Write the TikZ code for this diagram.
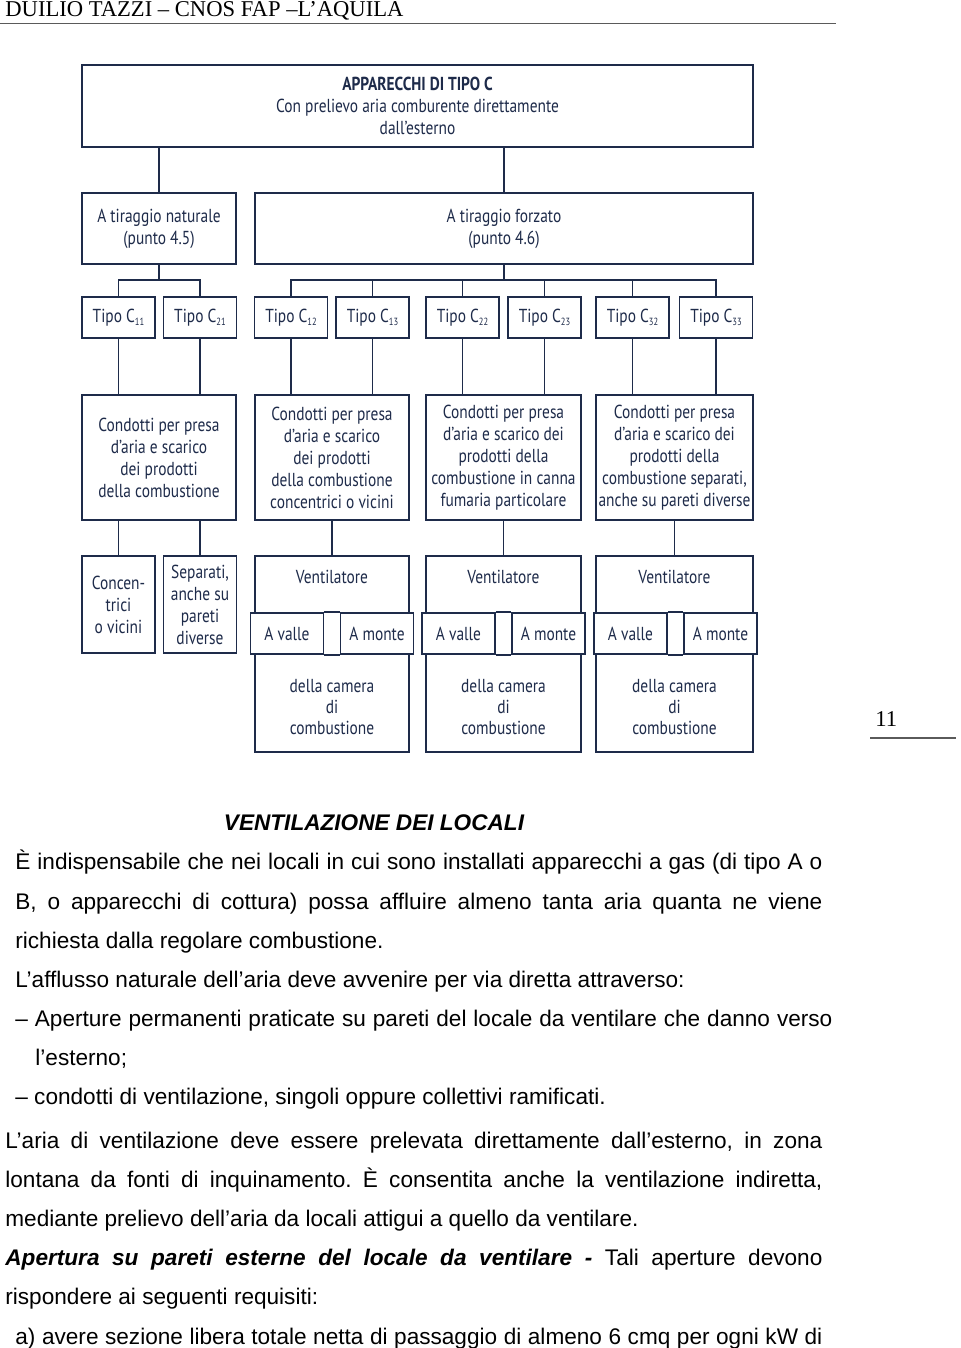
\documentclass[tikz,border=0pt]{standalone}
\usepackage{fontspec}
\setmainfont{Liberation Sans}
\newfontfamily\headfont{Liberation Serif}
\newfontfamily\diafont[FakeStretch=0.82]{PT Sans}
\usetikzlibrary{calc}

\definecolor{navy}{HTML}{1E2B4A}
\definecolor{rulegray}{HTML}{5A5A5A}

% small subscript of the Tipo boxes
\newcommand{\tsub}[1]{\raisebox{-0.35ex}{\fontsize{5.2}{5}\selectfont #1}}

\tikzset{
  box/.style={draw=navy, line width=0.8pt, fill=white, inner sep=0pt, align=center,
    font=\diafont\fontsize{9.4}{11}\selectfont, text=navy},
  boxtxt/.style={inner sep=0pt, align=center, font=\diafont\fontsize{9.4}{10.5}\selectfont, text=navy},
  wire/.style={draw=navy, line width=0.8pt},
  headtxt/.style={inner sep=0pt, anchor=base west, font=\headfont\fontsize{11.3}{13}\selectfont},
  body/.style={inner sep=0pt, anchor=base west, font=\fontsize{11.3}{13}\selectfont}
}

\begin{document}
\frenchspacing
\begin{tikzpicture}[x=0.5pt, y=-0.5pt]
  \useasboundingbox (0,0) rectangle (960,1348);

  % --- Page header and page number ---
  \node[headtxt] (head) at (5,17) {DUILIO TAZZI – CNOS FAP –L’AQUILA};
  \coordinate (hl) at (0,23.5);
  \coordinate (hr) at (836,23.5);
  \draw[rulegray, line width=0.6pt] (hl) -- (hr);
  \node[headtxt] (pnum) at (875,726) {11};
  \coordinate (pl) at (870,738);
  \coordinate (pr) at (956,738);
  \draw[rulegray, line width=0.8pt] (pl) -- (pr);

  % --- Top of the chart ---
  \node[box, minimum width=335.5pt, minimum height=41pt] (top) at (417.5,106)
    {\textbf{APPARECCHI DI TIPO C}\\Con prelievo aria comburente direttamente\\dall’esterno};
  \node[box, minimum width=77pt, minimum height=35.5pt] (nat) at (159,228.5)
    {A tiraggio naturale\\(punto 4.5)};
  \node[box, minimum width=249pt, minimum height=35.5pt] (forz) at (504,228.5)
    {A tiraggio forzato\\(punto 4.6)};
  \draw[wire] (nat.north |- top.south) -- (nat.north);
  \draw[wire] (forz.north |- top.south) -- (forz.north);

  % --- Tipo boxes ---
  \node[box, minimum width=36.5pt, minimum height=20.5pt] (t11) at (118.5,317.5) {Tipo C\tsub{11}};
  \node[box, minimum width=36.5pt, minimum height=20.5pt] (t21) at (200,317.5) {Tipo C\tsub{21}};
  \node[box, minimum width=36.5pt, minimum height=20.5pt] (t12) at (291,317.5) {Tipo C\tsub{12}};
  \node[box, minimum width=36.5pt, minimum height=20.5pt] (t13) at (372.5,317.5) {Tipo C\tsub{13}};
  \node[box, minimum width=36.5pt, minimum height=20.5pt] (t22) at (462.5,317.5) {Tipo C\tsub{22}};
  \node[box, minimum width=36.5pt, minimum height=20.5pt] (t23) at (544.5,317.5) {Tipo C\tsub{23}};
  \node[box, minimum width=36.5pt, minimum height=20.5pt] (t32) at (632.5,317.5) {Tipo C\tsub{32}};
  \node[box, minimum width=36.5pt, minimum height=20.5pt] (t33) at (716,317.5) {Tipo C\tsub{33}};

  % --- Bars from the two draught boxes ---
  \coordinate (natbar) at (159,280);
  \coordinate (forzbar) at (504,280);
  \draw[wire] (nat.south) -- (natbar);
  \draw[wire] (t11.north) -- (t11.north |- natbar) -- (t21.north |- natbar) -- (t21.north);
  \draw[wire] (forz.south) -- (forzbar);
  \draw[wire] (t12.north) -- (t12.north |- forzbar) -- (t33.north |- forzbar) -- (t33.north);
  \draw[wire] (t13.north |- forzbar) -- (t13.north);
  \draw[wire] (t22.north |- forzbar) -- (t22.north);
  \draw[wire] (t23.north |- forzbar) -- (t23.north);
  \draw[wire] (t32.north |- forzbar) -- (t32.north);

  % --- Description boxes ---
  \node[box, minimum width=77pt, minimum height=62.5pt] (d1) at (159,457.5)
    {Condotti per presa\\d’aria e scarico\\dei prodotti\\della combustione};
  \node[box, minimum width=77pt, minimum height=62.5pt] (d2) at (332,457.5)
    {Condotti per presa\\d’aria e scarico\\dei prodotti\\della combustione\\concentrici o vicini};
  \node[box, minimum width=77.5pt, minimum height=62.5pt] (d3) at (503.5,457.5)
    {Condotti per presa\\d’aria e scarico dei\\prodotti della\\combustione in canna\\fumaria particolare};
  \node[box, minimum width=78.5pt, minimum height=62.5pt] (d4) at (674.5,457.5)
    {Condotti per presa\\d’aria e scarico dei\\prodotti della\\combustione separati,\\anche su pareti diverse};
  \draw[wire] (t11.south) -- (t11.south |- d1.north);
  \draw[wire] (t21.south) -- (t21.south |- d1.north);
  \draw[wire] (t12.south) -- (t12.south |- d2.north);
  \draw[wire] (t13.south) -- (t13.south |- d2.north);
  \draw[wire] (t22.south) -- (t22.south |- d3.north);
  \draw[wire] (t23.south) -- (t23.south |- d3.north);
  \draw[wire] (t32.south) -- (t32.south |- d4.north);
  \draw[wire] (t33.south) -- (t33.south |- d4.north);

  % --- Natural draught: concentric or separate ---
  \node[box, minimum width=36.5pt, minimum height=48.5pt] (conc) at (118.5,604.5)
    {Concen-\\trici\\o vicini};
  \node[box, minimum width=36.5pt, minimum height=48.5pt] (sep) at (200,604.5)
    {Separati,\\anche su\\pareti\\diverse};
  \draw[wire] (conc.north |- d1.south) -- (conc.north);
  \draw[wire] (sep.north |- d1.south) -- (sep.north);

  % --- Forced draught: fan groups ---
  \node[box, minimum width=77pt, minimum height=98pt] (g1) at (332,654) {};
  \node[box, minimum width=77.5pt, minimum height=98pt] (g2) at (503.5,654) {};
  \node[box, minimum width=78.5pt, minimum height=98pt] (g3) at (674.5,654) {};
  \draw[wire] (d2.south) -- (g1.north);
  \draw[wire] (d3.south) -- (g2.north);
  \draw[wire] (d4.south) -- (g3.north);

  \node[boxtxt] (ven1) at (332,577) {Ventilatore};
  \node[boxtxt] (ven2) at (503.5,577) {Ventilatore};
  \node[boxtxt] (ven3) at (674.5,577) {Ventilatore};
  \node[boxtxt] (cam1) at (332,707) {della camera\\di\\combustione};
  \node[boxtxt] (cam2) at (503.5,707) {della camera\\di\\combustione};
  \node[boxtxt] (cam3) at (674.5,707) {della camera\\di\\combustione};

  % --- A valle / A monte bands ---
  \node[box, minimum width=36.5pt, minimum height=20.5pt] (av1) at (287,633.5) {A valle};
  \node[box, minimum width=36.5pt, minimum height=20.5pt] (am1) at (377,633.5) {A monte};
  \node[box, minimum width=36.5pt, minimum height=20.5pt] (av2) at (458.5,633.5) {A valle};
  \node[box, minimum width=36.5pt, minimum height=20.5pt] (am2) at (548.5,633.5) {A monte};
  \node[box, minimum width=36.5pt, minimum height=20.5pt] (av3) at (630.5,633.5) {A valle};
  \node[box, minimum width=36.5pt, minimum height=20.5pt] (am3) at (720.5,633.5) {A monte};
  \draw[wire] (av1.north east) -- (am1.north west);
  \draw[wire] (av1.south east) -- (am1.south west);
  \draw[wire] (av2.north east) -- (am2.north west);
  \draw[wire] (av2.south east) -- (am2.south west);
  \draw[wire] (av3.north east) -- (am3.north west);
  \draw[wire] (av3.south east) -- (am3.south west);

  % --- Text of the page ---
  \node[body, anchor=base, font=\bfseries\itshape\fontsize{11.3}{13}\selectfont] (title) at (374,830)
    {VENTILAZIONE DEI LOCALI};
  \node[body] (l1) at (15,869)
    {\makebox[403.5pt][s]{È indispensabile che nei locali in cui sono installati apparecchi a gas (di tipo A o}};
  \node[body] (l2) at (15,909)
    {\makebox[403.5pt][s]{B, o apparecchi di cottura) possa affluire almeno tanta aria quanta ne viene}};
  \node[body] (l3) at (15,948) {richiesta dalla regolare combustione.};
  \node[body] (l4) at (15,987) {L’afflusso naturale dell’aria deve avvenire per via diretta attraverso:};
  \node[body] (l5) at (15,1026)
    {\makebox[408.5pt][s]{– Aperture permanenti praticate su pareti del locale da ventilare che danno verso}};
  \node[body] (l6) at (35,1065) {l’esterno;};
  \node[body] (l7) at (15,1104) {– condotti di ventilazione, singoli oppure collettivi ramificati.};
  \node[body] (l8) at (5,1148)
    {\makebox[408.5pt][s]{L’aria di ventilazione deve essere prelevata direttamente dall’esterno, in zona}};
  \node[body] (l9) at (5,1187)
    {\makebox[408.5pt][s]{lontana da fonti di inquinamento. È consentita anche la ventilazione indiretta,}};
  \node[body] (l10) at (5,1226) {mediante prelievo dell’aria da locali attigui a quello da ventilare.};
  \node[body] (l11) at (5,1265)
    {\makebox[408.5pt][s]{\bfseries\itshape Apertura su pareti esterne del locale da ventilare - \mdseries\upshape Tali aperture devono}};
  \node[body] (l12) at (5,1304) {rispondere ai seguenti requisiti:};
  \node[body] (l13) at (15,1344)
    {\makebox[403.5pt][s]{a) avere sezione libera totale netta di passaggio di almeno 6 cmq per ogni kW di}};

\end{tikzpicture}
\end{document}
